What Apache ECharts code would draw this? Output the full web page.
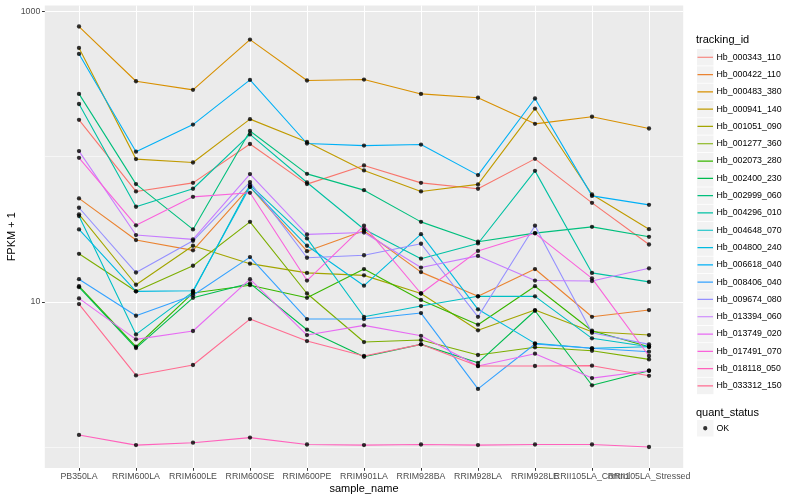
<!DOCTYPE html>
<html><head><meta charset="utf-8">
<script src="https://cdn.jsdelivr.net/npm/echarts@6/dist/echarts.min.js"></script>
<style>html,body{margin:0;padding:0;background:#fff}#c{width:800px;height:500px}</style>
</head><body><div id="c"></div>
<script>
const categories = ['PB350LA','RRIM600LA','RRIM600LE','RRIM600SE','RRIM600PE','RRIM901LA','RRIM928BA','RRIM928LA','RRIM928LE','RRII105LA_Control','RRII105LA_Stressed'];
const trackingIds = ['Hb_000343_110','Hb_000422_110','Hb_000483_380','Hb_000941_140','Hb_001051_090','Hb_001277_360','Hb_002073_280','Hb_002400_230','Hb_002999_060','Hb_004296_010','Hb_004648_070','Hb_004800_240','Hb_006618_040','Hb_008406_040','Hb_009674_080','Hb_013394_060','Hb_013749_020','Hb_017491_070','Hb_018118_050','Hb_033312_150'];
const lineColors = ['#F8766D','#EA8331','#D89000','#C09B00','#A3A500','#7CAE00','#39B600','#00BB4E','#00BF7D','#00C1A3','#00BFC4','#00BAE0','#00B0F6','#35A2FF','#9590FF','#C77CFF','#E76BF3','#FA62DB','#FF62BC','#FF6C91'];
const yTickLabels = [10, 1000];
const yMinorGrid = [1, 100];

const hb_000343_110 = [179, 57.5, 65.9, 122, 64.6, 86.9, 65.9, 60.0, 96.4, 48.0, 24.8];
const hb_000422_110 = [51.5, 26.6, 22.6, 61.9, 22.3, 30.8, 16.0, 10.9, 16.8, 7.88, 8.77];
const hb_000483_380 = [786, 330, 288, 639, 334, 339, 270, 254, 168, 188, 156];
const hb_000941_140 = [560, 96, 91, 181, 126, 80.2, 57.5, 64.3, 214, 54.8, 31.6];
const hb_001051_090 = [40.0, 13.1, 24.3, 18.3, 15.8, 15.2, 11.4, 6.36, 8.77, 6.22, 5.90];
const hb_001277_360 = [21.4, 11.8, 17.7, 35.5, 11.4, 5.28, 5.45, 4.30, 4.86, 4.60, 4.01];
const hb_002073_280 = [12.8, 4.90, 11.5, 13.0, 10.65, 16.8, 10.3, 6.95, 12.8, 6.32, 4.90];
const hb_002400_230 = [12.6, 4.80, 10.65, 13.4, 6.42, 4.18, 5.09, 3.80, 8.67, 2.66, 3.35];
const hb_002999_060 = [270, 64.6, 31.5, 150, 76.0, 58.7, 35.5, 25.9, 29.7, 32.8, 28.0];
const hb_004296_010 = [230, 45.1, 60.0, 142, 66.3, 31.6, 19.8, 25.2, 79.7, 15.8, 13.7];
const hb_004648_070 = [38.9, 5.96, 11.7, 63.9, 27.3, 7.88, 9.34, 10.9, 10.9, 5.60, 4.90];
const hb_004800_240 = [31.5, 11.8, 11.9, 61.9, 24.3, 12.9, 29.2, 8.87, 5.17, 4.78, 4.90];
const hb_006618_040 = [509, 108, 166, 337, 123, 119, 121, 74.5, 251, 53.6, 46.5];
const hb_008406_040 = [14.3, 8.01, 11.1, 20.3, 7.60, 7.60, 8.36, 2.51, 5.12, 4.78, 4.53];
const hb_009674_080 = [44.4, 15.9, 26.3, 66.7, 20.1, 20.9, 25.1, 7.88, 33.4, 6.12, 5.09];
const hb_013394_060 = [109, 28.8, 26.9, 75.7, 29.1, 30.0, 17.2, 20.7, 14.0, 13.9, 17.0];
const hb_013749_020 = [10.55, 5.51, 6.29, 14.3, 5.90, 6.88, 5.83, 3.61, 4.39, 2.98, 3.35];
const hb_017491_070 = [98, 33.6, 52.8, 56.3, 14.0, 33.4, 11.4, 22.4, 29.6, 14.5, 4.23];
const hb_018118_050 = [1.21, 1.03, 1.07, 1.16, 1.04, 1.03, 1.04, 1.03, 1.04, 1.04, 1.0];
const hb_033312_150 = [9.64, 3.11, 3.67, 7.60, 5.36, 4.23, 5.09, 3.61, 3.61, 3.63, 3.09];

const seriesValues = [hb_000343_110, hb_000422_110, hb_000483_380, hb_000941_140, hb_001051_090, hb_001277_360, hb_002073_280, hb_002400_230, hb_002999_060, hb_004296_010, hb_004648_070, hb_004800_240, hb_006618_040, hb_008406_040, hb_009674_080, hb_013394_060, hb_013749_020, hb_017491_070, hb_018118_050, hb_033312_150];

const FONT = '"Liberation Sans", Arial, Helvetica, sans-serif';
const all = seriesValues.flat();
const lo = Math.log10(Math.min(...all)), hi = Math.log10(Math.max(...all));
const pad = (hi - lo) * 0.05;
const yMin = Math.pow(10, lo - pad), yMax = Math.pow(10, hi + pad);
const xIdx = categories.map((c, i) => i);
const xIdxEven = xIdx.filter(i => i % 2 === 0);
const xIdxOdd = xIdx.filter(i => i % 2 === 1);

const minorGridSeries = {
  name: '__grid', type: 'line', data: [], z: 1, silent: true, symbol: 'none',
  markLine: { silent: true, symbol: 'none', animation: false, z: 1, zlevel: 0, label: { show: false },
    lineStyle: { color: '#fff', width: 0.55, type: 'solid' },
    data: yMinorGrid.map(v => ({ yAxis: v })) }
};
const lineSeries = trackingIds.map((id, k) => ({
  name: id, type: 'line', data: seriesValues[k].map((v, i) => [i, v]),
  showSymbol: false, symbol: 'none', silent: true,
  lineStyle: { color: lineColors[k], width: 1.1 }, itemStyle: { color: lineColors[k] }, z: 2
}));
const pointSeries = {
  name: 'OK', type: 'scatter', symbol: 'circle', symbolSize: 4.3,
  itemStyle: { color: '#000' }, z: 6, silent: true,
  data: seriesValues.flatMap(vals => vals.map((v, i) => [i, v]))
};

const boxPath = 'path://M0 0h0.01v0.01h-0.01z M17 17h0.01v0.01h-0.01z ';
const lineIcon = boxPath + 'M0.5 7.9h16v1.2h-16z';
const dotIcon = boxPath + 'M6.3 8.5a2.2 2.2 0 1 0 4.4 0a2.2 2.2 0 1 0 -4.4 0z';
const legendCommon = {
  orient: 'vertical', left: 697, itemWidth: 16.5, itemHeight: 16.5, itemGap: 0.8,
  selectedMode: false, padding: 0, textStyle: { fontFamily: FONT, fontSize: 8.8, color: '#000', padding: [0,0,0,-2] }
};
const xLabelStyle = { fontFamily: FONT, fontSize: 8.8, color: '#4D4D4D', margin: 4.5, hideOverlap: false, showMinLabel: true, showMaxLabel: true, formatter: v => categories[Math.round(v)] };

const option = {
  animation: false,
  backgroundColor: '#fff',
  title: [
    { text: 'tracking_id', left: 696, top: 34, padding: 0, textStyle: { fontFamily: FONT, fontSize: 11, fontWeight: 'normal', color: '#000' } },
    { text: 'quant_status', left: 696, top: 407, padding: 0, textStyle: { fontFamily: FONT, fontSize: 11, fontWeight: 'normal', color: '#000' } }
  ],
  grid: { left: 44.8, right: 116.8, top: 5.5, bottom: 32, show: true, backgroundColor: '#EBEBEB', borderWidth: 0, containLabel: false, outerBoundsMode: 'none' },
  xAxis: [{
    type: 'value', min: -0.6, max: 10.6, position: 'bottom',
    name: 'sample_name', nameLocation: 'middle', nameGap: 15, nameMoveOverlap: false,
    nameTextStyle: { fontFamily: FONT, fontSize: 11, color: '#000' },
    axisLine: { show: false, onZero: false },
    axisTick: { show: true, length: 2.75, customValues: xIdx, lineStyle: { color: '#333', width: 1 } },
    axisLabel: Object.assign({ customValues: xIdxEven }, xLabelStyle),
    splitLine: { show: true, lineStyle: { color: '#fff', width: 1.07 } }
  }, {
    type: 'value', min: -0.6, max: 10.6, position: 'bottom', offset: 0,
    axisLine: { show: false, onZero: false },
    axisTick: { show: false, customValues: xIdxOdd },
    axisLabel: Object.assign({ customValues: xIdxOdd }, xLabelStyle),
    splitLine: { show: false }
  }],
  yAxis: {
    type: 'log', logBase: 10, min: yMin, max: yMax, position: 'left',
    name: 'FPKM + 1', nameLocation: 'middle', nameGap: 27, nameRotate: 90, nameMoveOverlap: false,
    nameTextStyle: { fontFamily: FONT, fontSize: 11, color: '#000' },
    axisLine: { show: false, onZero: false },
    axisTick: { show: true, length: 2.75, customValues: yTickLabels, lineStyle: { color: '#333', width: 1 } },
    axisLabel: { customValues: yTickLabels, formatter: v => String(Math.round(v)), fontFamily: FONT, fontSize: 8.8, color: '#4D4D4D', margin: 4.5, showMinLabel: true, showMaxLabel: true },
    splitLine: { show: true, lineStyle: { color: '#fff', width: 1.07 } }
  },
  legend: [
    Object.assign({}, legendCommon, { top: 49, icon: 'rect', data: trackingIds.map(n => ({ name: n, itemStyle: { color: '#F2F2F2' } })), textStyle: Object.assign({}, legendCommon.textStyle, { color: 'rgba(0,0,0,0)' }), z: 1 }),
    Object.assign({}, legendCommon, { top: 49, data: trackingIds.map((n, k) => ({ name: n, icon: lineIcon, itemStyle: { color: lineColors[k] } })), z: 2 }),
    Object.assign({}, legendCommon, { top: 420, icon: 'rect', data: [{ name: 'OK', itemStyle: { color: '#F2F2F2' } }], textStyle: Object.assign({}, legendCommon.textStyle, { color: 'rgba(0,0,0,0)' }), z: 1 }),
    Object.assign({}, legendCommon, { top: 420, data: [{ name: 'OK', icon: dotIcon, itemStyle: { color: '#000' } }], z: 2 })
  ],
  series: [minorGridSeries].concat(lineSeries, [pointSeries])
};
const chart = echarts.init(document.getElementById('c'), null, { renderer: 'canvas' });
chart.setOption(option);
</script></body></html>
